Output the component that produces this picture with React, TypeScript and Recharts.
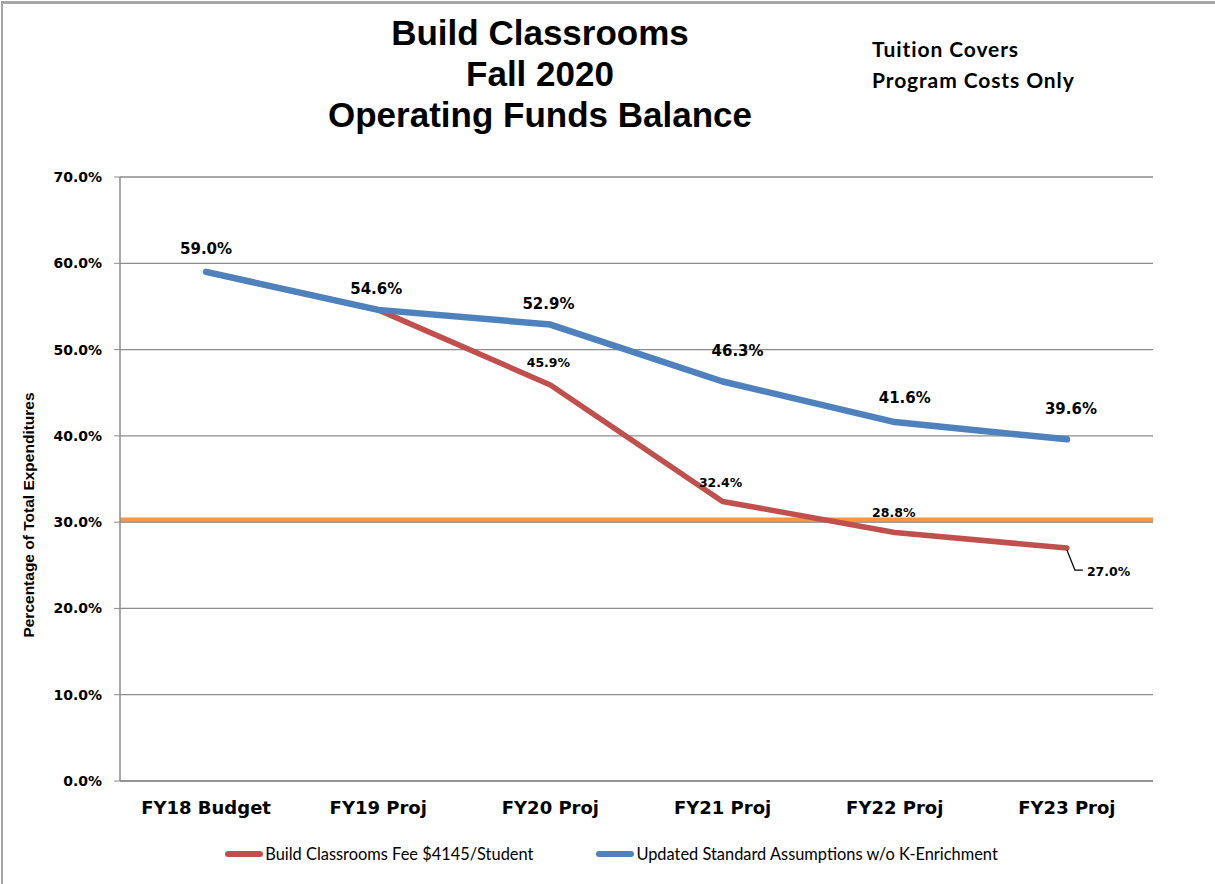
import React from "react"
import {
  LineChart,
  Line,
  XAxis,
  YAxis,
  CartesianGrid,
  ReferenceLine,
  LabelList,
  Legend,
} from "recharts"

const CATEGORIES = [
  "FY18 Budget",
  "FY19 Proj",
  "FY20 Proj",
  "FY21 Proj",
  "FY22 Proj",
  "FY23 Proj",
]
const BUILD_CLASSROOMS = [59.0, 54.6, 45.9, 32.4, 28.8, 27.0]
const UPDATED_STANDARD = [59.0, 54.6, 52.9, 46.3, 41.6, 39.6]
const THRESHOLD = 30.3
const Y_TICKS = [0, 10, 20, 30, 40, 50, 60, 70]
const EDGE_TICKS = [0, 1, 2, 3, 4, 5, 6]

const SERIES_NAMES = {
  build: "Build Classrooms Fee $4145/Student",
  updated: "Updated Standard Assumptions w/o K-Enrichment",
}

const RED = "#C0504D"
const BLUE = "#4F81BD"
const ORANGE = "#F79646"
const GRID = "#8c8c8c"

const data = CATEGORIES.map((name, i) => ({
  name,
  build: BUILD_CLASSROOMS[i],
  updated: UPDATED_STANDARD[i],
}))

const fmt = (v: number) => `${v.toFixed(1)}%`

// label nudges (px) relative to each point
const BLUE_OFFSETS = [
  [0, -23],
  [-2, -21],
  [-2, -21],
  [15, -30],
  [10, -24],
  [4, -30],
]
const RED_OFFSETS = [
  [0, 0],
  [0, 0],
  [-2, -22],
  [-2, -19],
  [-1, -20],
  [0, 0],
]

function BlueLabel(props: any) {
  const { x, y, value, index } = props
  const [dx, dy] = BLUE_OFFSETS[index]
  return (
    <text
      x={x + dx}
      y={y + dy}
      textAnchor="middle"
      dominantBaseline="central"
      fontFamily="DejaVu Sans"
      fontWeight="bold"
      fontSize={15}
      fill="#000"
    >
      {fmt(value)}
    </text>
  )
}

function RedLabel(props: any) {
  const { x, y, value, index } = props
  if (index === 0 || index === 1) return null
  if (index === CATEGORIES.length - 1) {
    return (
      <g>
        <path
          d={`M${x},${y + 2} L${x + 8},${y + 22} L${x + 16},${y + 22}`}
          stroke="#000"
          strokeWidth={1.2}
          fill="none"
        />
        <text
          x={x + 20}
          y={y + 23}
          dominantBaseline="central"
          fontFamily="DejaVu Sans"
          fontWeight="bold"
          fontSize={12.5}
          fill="#000"
        >
          {fmt(value)}
        </text>
      </g>
    )
  }
  const [dx, dy] = RED_OFFSETS[index]
  return (
    <text
      x={x + dx}
      y={y + dy}
      textAnchor="middle"
      dominantBaseline="central"
      fontFamily="DejaVu Sans"
      fontWeight="bold"
      fontSize={12.5}
      fill="#000"
    >
      {fmt(value)}
    </text>
  )
}

function renderLegend() {
  const items = [
    { color: RED, label: SERIES_NAMES.build },
    { color: BLUE, label: SERIES_NAMES.updated },
  ]
  return (
    <div
      style={{
        display: "flex",
        justifyContent: "center",
        gap: 63,
        fontFamily: "Lato, 'Open Sans', sans-serif",
        fontSize: 16.4,
        color: "#000",
        paddingLeft: 8,
      }}
    >
      {items.map((it) => (
        <div key={it.label} style={{ display: "flex", alignItems: "center" }}>
          <span
            style={{
              display: "inline-block",
              width: 38,
              height: 6,
              borderRadius: 3,
              background: it.color,
              marginRight: 2,
            }}
          />
          <span>{it.label}</span>
        </div>
      ))}
    </div>
  )
}

function YAxisTitle() {
  return (
    <text
      x={28}
      y={515}
      transform="rotate(-90, 28, 515)"
      textAnchor="middle"
      dominantBaseline="central"
      fontFamily="'Liberation Sans', Arial, sans-serif"
      fontWeight="bold"
      fontSize={15.5}
      fill="#000"
    >
      Percentage of Total Expenditures
    </text>
  )
}

export default function App() {
  return (
    <div
      style={{
        position: "absolute",
        top: 0,
        left: 0,
        width: 1215,
        height: 884,
        background: "#fff",
        overflow: "hidden",
      }}
    >
      <div
        style={{
          position: "absolute",
          top: 1,
          left: 1,
          width: 1230,
          height: 900,
          borderTop: "3px solid #a6a6a6",
          borderLeft: "2px solid #a6a6a6",
        }}
      />
      <div
        style={{
          position: "absolute",
          top: 12,
          left: 240,
          width: 600,
          textAlign: "center",
          fontFamily: "'Liberation Sans', Arial, sans-serif",
          fontWeight: "bold",
          fontSize: 35,
          lineHeight: "41px",
          color: "#000",
        }}
      >
        <div>Build Classrooms</div>
        <div>Fall 2020</div>
        <div>Operating Funds Balance</div>
      </div>
      <div
        style={{
          position: "absolute",
          top: 33,
          left: 872,
          fontFamily: "Lato, 'Open Sans', sans-serif",
          fontWeight: "bold",
          fontSize: 21,
          letterSpacing: 0.9,
          lineHeight: "31px",
          color: "#000",
        }}
      >
        <div>Tuition Covers</div>
        <div>Program Costs Only</div>
      </div>
      <div style={{ position: "absolute", top: 0, left: 0 }}>
        <LineChart
          width={1215}
          height={884}
          data={data}
          margin={{ top: 177, right: 62, bottom: 12, left: 20 }}
        >
          <CartesianGrid
            xAxisId="cat"
            vertical={false}
            stroke={GRID}
            strokeWidth={1.3}
          />
          <XAxis
            xAxisId="edges"
            type="number"
            domain={[0, 6]}
            ticks={EDGE_TICKS}
            interval={0}
            allowDataOverflow
            tick={false}
            tickSize={7}
            axisLine={false}
            tickLine={{ stroke: GRID, strokeWidth: 1.2 }}
            height={0}
          />
          <XAxis
            xAxisId="cat"
            dataKey="name"
            scale="band"
            height={63}
            interval={0}
            tickLine={false}
            tickSize={0}
            tickMargin={20}
            axisLine={{ stroke: GRID, strokeWidth: 1.5 }}
            tick={{
              fontFamily: "DejaVu Sans",
              fontWeight: "bold",
              fontSize: 18,
              fill: "#000",
            }}
          />
          <YAxis
            width={100}
            domain={[0, 70]}
            ticks={Y_TICKS}
            interval={0}
            tickSize={6}
            tickMargin={12}
            tickFormatter={(v: number) => fmt(v)}
            axisLine={{ stroke: GRID, strokeWidth: 1.5 }}
            tickLine={{ stroke: GRID }}
            tick={{
              fontFamily: "DejaVu Sans",
              fontWeight: "bold",
              fontSize: 14,
              fill: "#000",
            }}
          />
          <ReferenceLine
            xAxisId="cat"
            y={THRESHOLD - 0.25}
            stroke="#9a9a9a"
            strokeWidth={2}
          />
          <ReferenceLine
            xAxisId="cat"
            y={THRESHOLD}
            stroke={ORANGE}
            strokeWidth={4}
          />
          <Line
            xAxisId="cat"
            type="linear"
            dataKey="build"
            name={SERIES_NAMES.build}
            stroke={RED}
            strokeWidth={5.5}
            dot={false}
            strokeLinejoin="round"
            strokeLinecap="round"
            isAnimationActive={false}
          >
            <LabelList dataKey="build" content={RedLabel} />
          </Line>
          <Line
            xAxisId="cat"
            type="linear"
            dataKey="updated"
            name={SERIES_NAMES.updated}
            stroke={BLUE}
            strokeWidth={6.5}
            dot={false}
            strokeLinejoin="round"
            strokeLinecap="round"
            isAnimationActive={false}
          >
            <LabelList dataKey="updated" content={BlueLabel} />
          </Line>
          <Legend
            verticalAlign="bottom"
            height={28}
            content={renderLegend}
            wrapperStyle={{ left: 0, width: 1215 }}
          />
          <YAxisTitle />
        </LineChart>
      </div>
    </div>
  )
}
